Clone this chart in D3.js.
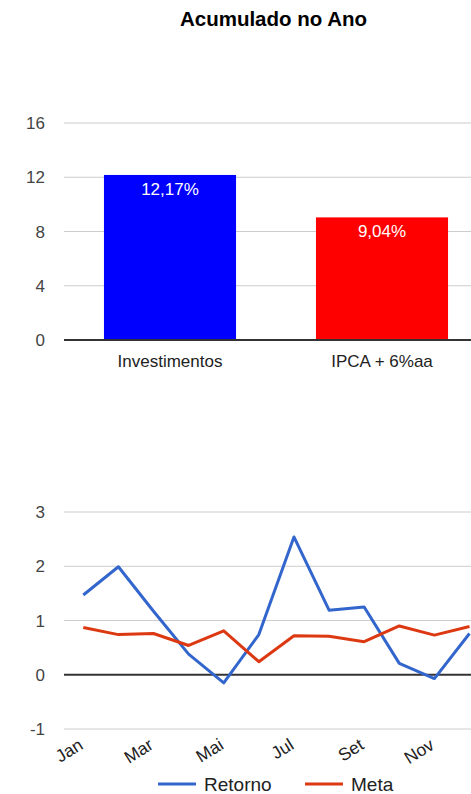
<!DOCTYPE html>
<html><head><meta charset="utf-8">
<script src="https://cdn.jsdelivr.net/npm/d3@7"></script>
<style>body{margin:0;background:#fff;} svg{display:block;font-family:Arial,"Liberation Sans",sans-serif;}</style>
</head><body>
<script>
const title = "Acumulado no Ano";
const barCategories = ["Investimentos", "IPCA + 6%aa"];
const barValues = [12.17, 9.04];
const barLabels = ["12,17%", "9,04%"];
const barColors = ["#0000ff", "#ff0000"];
const barTicks = [0, 4, 8, 12, 16];

const months = ["Jan","Fev","Mar","Abr","Mai","Jun","Jul","Ago","Set","Out","Nov","Dez"];
const retorno = [1.47, 1.99, 1.17, 0.38, -0.15, 0.74, 2.54, 1.19, 1.25, 0.21, -0.07, 0.76];
const meta = [0.87, 0.74, 0.76, 0.54, 0.81, 0.24, 0.72, 0.71, 0.61, 0.90, 0.73, 0.89];
const lineTicks = [-1, 0, 1, 2, 3];
const seriesNames = ["Retorno", "Meta"];
const seriesColors = ["#3366cc", "#dc3912"];

const W = 471, H = 794;
const svg = d3.select("body").append("svg").attr("width", W).attr("height", H);

svg.append("text").attr("x", 273.5).attr("y", 26).attr("text-anchor", "middle")
  .attr("font-size", 20.5).attr("font-weight", "bold").attr("fill", "#000").text(title);

// ---- Bar chart ----
const left = 64;
const yB = d3.scaleLinear().domain([0, 16]).range([340, 123]);
const xB = d3.scaleBand().domain(barCategories).range([left, 488]).paddingInner(0.377).paddingOuter(0.1885);

const gB = svg.append("g");
gB.selectAll("line.grid").data(barTicks.filter(d => d !== 0)).join("line")
  .attr("x1", left).attr("x2", W).attr("y1", d => yB(d)).attr("y2", d => yB(d))
  .attr("stroke", "#cccccc").attr("stroke-width", 1);
gB.selectAll("text.tick").data(barTicks).join("text")
  .attr("x", 45).attr("y", d => yB(d) + 6).attr("text-anchor", "end")
  .attr("font-size", 17).attr("fill", "#444").text(d => d);
gB.selectAll("rect").data(barValues).join("rect")
  .attr("x", (d, i) => xB(barCategories[i])).attr("width", xB.bandwidth())
  .attr("y", d => yB(d)).attr("height", d => yB(0) - yB(d))
  .attr("fill", (d, i) => barColors[i]);
gB.selectAll("text.val").data(barValues).join("text")
  .attr("x", (d, i) => xB(barCategories[i]) + xB.bandwidth() / 2)
  .attr("y", d => yB(d) + 20).attr("text-anchor", "middle")
  .attr("font-size", 17).attr("fill", "#fff").text((d, i) => barLabels[i]);
gB.append("line").attr("x1", left).attr("x2", W).attr("y1", yB(0)).attr("y2", yB(0))
  .attr("stroke", "#333").attr("stroke-width", 2);
gB.selectAll("text.cat").data(barCategories).join("text")
  .attr("x", d => xB(d) + xB.bandwidth() / 2).attr("y", 367).attr("text-anchor", "middle")
  .attr("font-size", 17).attr("fill", "#222").text(d => d);

// ---- Line chart ----
const yL = d3.scaleLinear().domain([-1, 3]).range([729, 512]);
const xL = d3.scalePoint().domain(months).range([83.3, 469.5]);
const gL = svg.append("g");
gL.selectAll("line.grid").data(lineTicks.filter(d => d !== 0)).join("line")
  .attr("x1", left).attr("x2", W).attr("y1", d => yL(d)).attr("y2", d => yL(d))
  .attr("stroke", "#cccccc").attr("stroke-width", 1);
gL.selectAll("text.tick").data(lineTicks).join("text")
  .attr("x", 45).attr("y", d => yL(d) + 6).attr("text-anchor", "end")
  .attr("font-size", 17).attr("fill", "#444").text(d => d);
gL.append("line").attr("x1", left).attr("x2", W).attr("y1", yL(0)).attr("y2", yL(0))
  .attr("stroke", "#333").attr("stroke-width", 2);

const line = d3.line().x((d, i) => xL(months[i])).y(d => yL(d));
[retorno, meta].forEach((s, k) => {
  gL.append("path").datum(s).attr("d", line).attr("fill", "none")
    .attr("stroke", seriesColors[k]).attr("stroke-width", 3).attr("stroke-linejoin", "round");
});

gL.selectAll("text.xl").data(months.filter((d, i) => i % 2 === 0)).join("text")
  .attr("text-anchor", "end").attr("font-size", 17.5).attr("fill", "#222")
  .attr("transform", d => `translate(${xL(d) + 1},${748}) rotate(-32)`).text(d => d);

// legend
const legX = [158, 305];
seriesNames.forEach((n, k) => {
  svg.append("line").attr("x1", legX[k]).attr("x2", legX[k] + 38).attr("y1", 784).attr("y2", 784)
    .attr("stroke", seriesColors[k]).attr("stroke-width", 3);
  svg.append("text").attr("x", legX[k] + 46).attr("y", 791).attr("font-size", 19).attr("fill", "#222").text(n);
});
</script>
</body></html>
